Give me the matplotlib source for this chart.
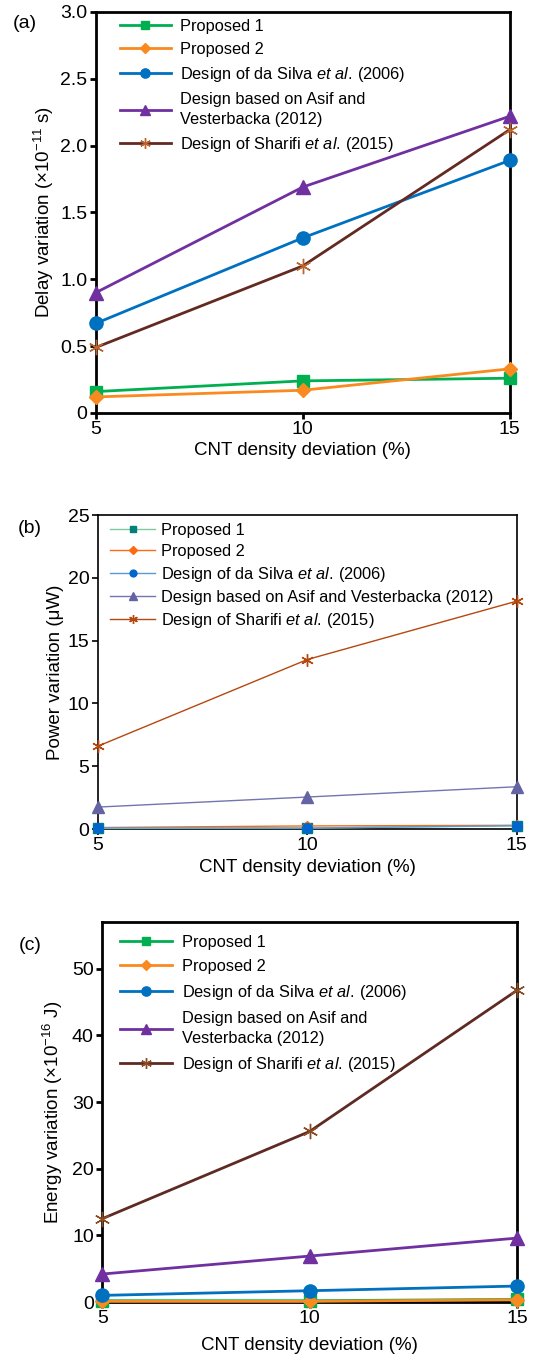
import matplotlib.pyplot as plt

# Yazı tipi: Arial benzeri Liberation Sans, italik "et al." için mathtext ayarı
plt.rcParams['font.family'] = ['Liberation Sans', 'DejaVu Sans']
plt.rcParams['mathtext.fontset'] = 'custom'
plt.rcParams['mathtext.rm'] = 'Liberation Sans'
plt.rcParams['mathtext.it'] = 'Liberation Sans:italic'

# Ortak x ekseni: CNT yoğunluk sapması (%)
sapma = [5, 10, 15]

# (a) Gecikme değişimi (x1e-11 s)
gecikme_p1 = [0.16, 0.24, 0.26]
gecikme_p2 = [0.12, 0.17, 0.33]
gecikme_silva = [0.67, 1.31, 1.89]
gecikme_asif = [0.90, 1.69, 2.22]
gecikme_sharifi = [0.49, 1.10, 2.12]

# (b) Güç değişimi (uW)
guc_p1 = [0.05, 0.08, 0.25]
guc_p2 = [0.12, 0.25, 0.30]
guc_silva = [0.10, 0.08, 0.28]
guc_asif = [1.75, 2.55, 3.37]
guc_sharifi = [6.6, 13.5, 18.15]

# (c) Enerji değişimi (x1e-16 J)
enerji_p1 = [0.2, 0.2, 0.4]
enerji_p2 = [0.1, 0.1, 0.35]
enerji_silva = [1.0, 1.7, 2.4]
enerji_asif = [4.2, 6.9, 9.6]
enerji_sharifi = [12.5, 25.6, 46.8]

etiket_p1 = 'Proposed 1'
etiket_p2 = 'Proposed 2'
etiket_silva = r'Design of da Silva $\it{et\ al.}\,$(2006)'
etiket_asif_iki = 'Design based on Asif and\nVesterbacka (2012)'
etiket_asif_tek = 'Design based on Asif and Vesterbacka (2012)'
etiket_sharifi = r'Design of Sharifi $\it{et\ al.}\,$(2015)'

YILDIZ = (6, 2, 0)  # Excel tarzı yıldız işaretçi


def eksen_duzenle(ax, ylim, yticks, yticklabels, ylabel, harf, harf_xy, lw_spine, ylabel_x, xpad=3):
    ax.set_xlim(5, 15)
    ax.set_ylim(*ylim)
    ax.set_xticks(sapma)
    ax.set_xticklabels(['5', '10', '15'])
    ax.set_yticks(yticks)
    ax.set_yticklabels(yticklabels)
    for s in ax.spines.values():
        s.set_linewidth(lw_spine)
    ax.tick_params(direction='out', length=4, width=lw_spine, labelsize=14, pad=2)
    ax.set_xlabel('CNT density deviation (%)', fontsize=13.5, labelpad=xpad)
    ax.set_ylabel(ylabel, fontsize=13.5)
    ax.yaxis.set_label_coords(ylabel_x, 0.5)
    fig.text(harf_xy[0], harf_xy[1], harf, fontsize=14, ha='center', va='center')


def seri_ciz(ax, y, renk, marker, ms, lw, mrenk=None, etiket=None):
    if mrenk is None:
        mrenk = renk
    ax.plot(sapma, y, color=renk, lw=lw, marker=marker, ms=ms,
            markerfacecolor=mrenk, markeredgecolor=mrenk, markeredgewidth=1.0,
            clip_on=False, label=etiket, zorder=3)


fig = plt.figure(figsize=(5.35, 13.58), dpi=100)

# ---------------- (a) Gecikme ----------------
ax1 = fig.add_axes([0.179, 0.6959, 0.774, 0.2953])
seri_ciz(ax1, gecikme_p1, '#00b050', 's', 8.5, 2.0, etiket=etiket_p1)
seri_ciz(ax1, gecikme_p2, '#f98a1f', 'D', 7.5, 2.0, etiket=etiket_p2)
seri_ciz(ax1, gecikme_silva, '#0070c0', 'o', 9.5, 2.0, etiket=etiket_silva)
seri_ciz(ax1, gecikme_asif, '#7030a0', '^', 9.5, 2.0, etiket=etiket_asif_iki)
seri_ciz(ax1, gecikme_sharifi, '#632a22', YILDIZ, 11, 2.0, mrenk='#b8652f', etiket=etiket_sharifi)
eksen_duzenle(ax1, (0, 3.0), [0, 0.5, 1.0, 1.5, 2.0, 2.5, 3.0],
              ['0', '0.5', '1.0', '1.5', '2.0', '2.5', '3.0'],
              r'Delay variation (×10$^{-11}$ s)', '(a)', (25 / 535, 1 - 23 / 1358), 2.0, -0.095)
leg1 = ax1.legend(loc='upper left', bbox_to_anchor=(0.058, 0.982), frameon=False,
                  fontsize=11.8, handlelength=3.1, handletextpad=0.55, labelspacing=0.48,
                  borderpad=0, borderaxespad=0)

# ---------------- (b) Güç ----------------
ax2 = fig.add_axes([0.183, 0.3895, 0.783, 0.2312])
seri_ciz(ax2, guc_p1, '#80c8a0', 's', 7, 1.0, mrenk='#00807a', etiket=etiket_p1)
seri_ciz(ax2, guc_p2, '#ff6a10', 'D', 5.5, 1.0, etiket=etiket_p2)
seri_ciz(ax2, guc_silva, '#5b9bd5', 'o', 7, 1.0, mrenk='#0066cc', etiket=etiket_silva)
seri_ciz(ax2, guc_asif, '#7474b0', '^', 8, 1.0, mrenk='#6464a4', etiket=etiket_asif_tek)
seri_ciz(ax2, guc_sharifi, '#b5470f', YILDIZ, 9, 1.0, etiket=etiket_sharifi)
eksen_duzenle(ax2, (0, 25), [0, 5, 10, 15, 20, 25], ['0', '5', '10', '15', '20', '25'],
              r'Power variation (μW)', '(b)', (30 / 535, 1 - 529 / 1358), 1.2, -0.08)
leg2 = ax2.legend(loc='upper left', bbox_to_anchor=(0.029, 0.975), frameon=False,
                  fontsize=11.8, handlelength=2.75, handletextpad=0.35, labelspacing=0.36,
                  borderpad=0, borderaxespad=0)

# ---------------- (c) Enerji ----------------
ax3 = fig.add_axes([0.191, 0.0412, 0.776, 0.2798])
seri_ciz(ax3, enerji_p1, '#00b050', 's', 8.5, 2.0, etiket=etiket_p1)
seri_ciz(ax3, enerji_p2, '#f98a1f', 'D', 7.5, 2.0, etiket=etiket_p2)
seri_ciz(ax3, enerji_silva, '#0070c0', 'o', 9.5, 2.0, etiket=etiket_silva)
seri_ciz(ax3, enerji_asif, '#7030a0', '^', 9.5, 2.0, etiket=etiket_asif_iki)
seri_ciz(ax3, enerji_sharifi, '#5e2a24', YILDIZ, 11, 2.0, mrenk='#8a4a22', etiket=etiket_sharifi)
eksen_duzenle(ax3, (0, 57), [0, 10, 20, 30, 40, 50], ['0', '10', '20', '30', '40', '50'],
              r'Energy variation (×10$^{-16}$ J)', '(c)', (30 / 535, 1 - 945 / 1358), 2.0, -0.09,
              xpad=7)
leg3 = ax3.legend(loc='upper left', bbox_to_anchor=(0.043, 0.967), frameon=False,
                  fontsize=11.8, handlelength=3.2, handletextpad=0.6, labelspacing=0.55,
                  borderpad=0, borderaxespad=0)

# Lejanttaki işaretçiler grafiktekilerden küçük, iki satırlı etiketin satır aralığı geniş
for leg in (leg1, leg2, leg3):
    for h in leg.legend_handles:
        h.set_markersize(h.get_markersize() * 0.7)
    for t in leg.get_texts():
        t.set_linespacing(1.45)

fig.savefig('out.png', dpi=100)
